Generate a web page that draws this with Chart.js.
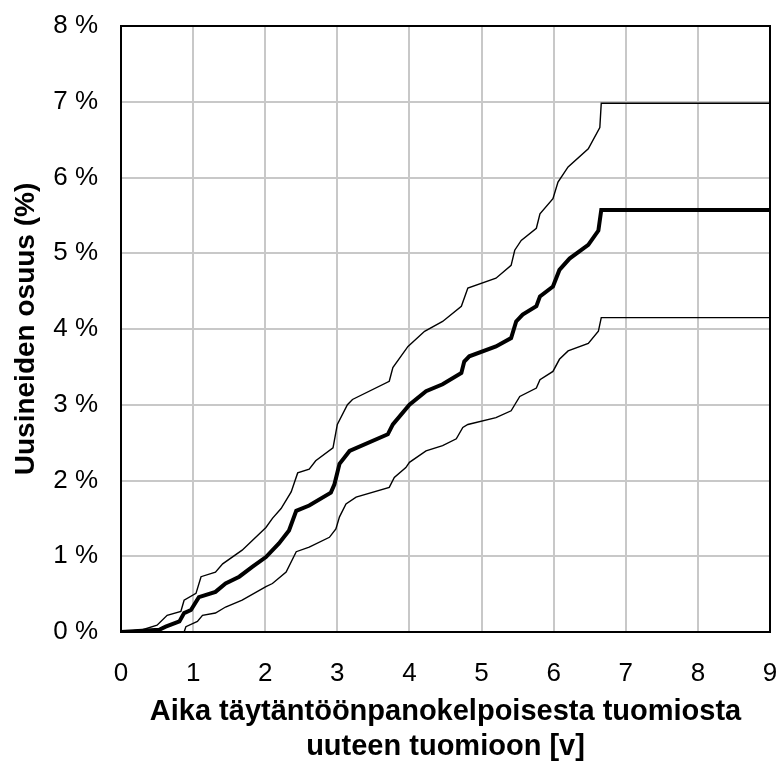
<!DOCTYPE html>
<html>
<head>
<meta charset="utf-8">
<script src="https://cdn.jsdelivr.net/npm/chart.js@4"></script>
<style>
  html, body { margin: 0; padding: 0; background: #fff; }
  #wrap { width: 778px; height: 765px; }
</style>
</head>
<body>
<div id="wrap"><canvas id="chart"></canvas></div>
<script>
// Series (x = years, y = percent)
const midX = [0, 0.53, 0.62, 0.81, 0.875, 0.97, 1.08, 1.31, 1.45, 1.64, 1.82, 2.01, 2.19, 2.33, 2.43, 2.61, 2.91, 2.96, 3.03, 3.17, 3.70, 3.77, 4.0, 4.23, 4.46, 4.72, 4.76, 4.83, 5.2, 5.41, 5.48, 5.57, 5.76, 5.81, 5.99, 6.08, 6.22, 6.48, 6.62, 6.66, 9];
const midY = [0, 0.03, 0.07, 0.14, 0.25, 0.29, 0.46, 0.53, 0.64, 0.73, 0.86, 0.99, 1.17, 1.34, 1.60, 1.67, 1.84, 1.95, 2.22, 2.39, 2.61, 2.74, 3.0, 3.18, 3.27, 3.42, 3.57, 3.64, 3.77, 3.88, 4.10, 4.19, 4.30, 4.43, 4.56, 4.78, 4.93, 5.11, 5.30, 5.57, 5.57];

const upX = [0, 0.3, 0.50, 0.64, 0.83, 0.875, 1.04, 1.11, 1.31, 1.41, 1.68, 2.01, 2.10, 2.22, 2.36, 2.45, 2.61, 2.70, 2.94, 3.0, 3.14, 3.21, 3.72, 3.77, 3.98, 4.21, 4.46, 4.72, 4.81, 5.2, 5.41, 5.46, 5.55, 5.76, 5.81, 5.99, 6.06, 6.2, 6.48, 6.64, 6.66, 9];
const upY = [0, 0.03, 0.09, 0.22, 0.27, 0.42, 0.51, 0.73, 0.79, 0.90, 1.08, 1.38, 1.50, 1.63, 1.85, 2.10, 2.15, 2.26, 2.43, 2.74, 3.0, 3.07, 3.31, 3.49, 3.77, 3.97, 4.10, 4.30, 4.54, 4.67, 4.84, 5.04, 5.17, 5.33, 5.52, 5.72, 5.94, 6.14, 6.38, 6.66, 6.98, 6.98];

const lowX = [0, 0.875, 0.9, 1.06, 1.13, 1.31, 1.45, 1.68, 2.01, 2.10, 2.29, 2.43, 2.61, 2.89, 2.98, 3.03, 3.12, 3.26, 3.72, 3.79, 3.95, 4.0, 4.23, 4.46, 4.65, 4.74, 4.81, 5.2, 5.41, 5.53, 5.76, 5.81, 5.99, 6.08, 6.2, 6.48, 6.62, 6.66, 9];
const lowY = [0, 0, 0.07, 0.14, 0.22, 0.25, 0.33, 0.42, 0.60, 0.64, 0.79, 1.06, 1.12, 1.25, 1.36, 1.52, 1.69, 1.78, 1.91, 2.04, 2.17, 2.24, 2.39, 2.46, 2.55, 2.70, 2.74, 2.83, 2.92, 3.11, 3.22, 3.33, 3.44, 3.60, 3.71, 3.81, 3.97, 4.15, 4.15];

const xTicks = [0, 1, 2, 3, 4, 5, 6, 7, 8, 9];
const yTicks = [0, 1, 2, 3, 4, 5, 6, 7, 8];

const xTitle = ['Aika täytäntöönpanokelpoisesta tuomiosta', 'uuteen tuomioon [v]'];
const yTitle = 'Uusineiden osuus (%)';

function toPoints(xs, ys) {
  return xs.map((x, i) => ({ x: x, y: ys[i] }));
}

// black frame round the plot area
const frameBox = {
  id: 'frameBox',
  afterDraw(chart) {
    const a = chart.chartArea;
    const c = chart.ctx;
    c.save();
    c.strokeStyle = '#000';
    c.lineWidth = 2;
    c.strokeRect(a.left, a.top, a.right - a.left, a.bottom - a.top);
    c.restore();
  }
};

Chart.defaults.font.family = '"Liberation Sans", Arial, sans-serif';
Chart.defaults.color = '#000';

new Chart(document.getElementById('chart'), {
  type: 'scatter',
  data: {
    datasets: [
      { label: 'ylä', data: toPoints(upX, upY), showLine: true, borderColor: '#000', borderWidth: 1.4, pointRadius: 0, tension: 0 },
      { label: 'keski', data: toPoints(midX, midY), showLine: true, borderColor: '#000', borderWidth: 4, pointRadius: 0, tension: 0 },
      { label: 'ala', data: toPoints(lowX, lowY), showLine: true, borderColor: '#000', borderWidth: 1.4, pointRadius: 0, tension: 0 },
    ],
  },
  options: {
    responsive: true,
    maintainAspectRatio: false,
    animation: false,
    layout: { padding: { top: 26, right: 8, left: 0, bottom: 0 } },
    plugins: {
      legend: { display: false },
      tooltip: { enabled: false },
    },
    scales: {
      x: {
        type: 'linear',
        min: 0,
        max: 9,
        afterBuildTicks: (s) => { s.ticks = xTicks.map(v => ({ value: v })); },
        afterFit: (s) => { s.height = 133; s.paddingLeft = 0; s.paddingRight = 0; },
        ticks: { font: { size: 26 }, padding: 26, color: '#000', maxRotation: 0 },
        grid: { color: '#c8c8c8', lineWidth: 2, drawTicks: false },
        border: { display: false },
        title: {
          display: true,
          text: xTitle,
          font: { size: 29, weight: 'bold', lineHeight: 1.22 },
          color: '#000',
          padding: { top: -4, bottom: 0 },
        },
      },
      y: {
        type: 'linear',
        min: 0,
        max: 8,
        afterBuildTicks: (s) => { s.ticks = yTicks.map(v => ({ value: v })); },
        afterFit: (s) => { s.width = 121; s.paddingTop = 0; s.paddingBottom = 0; },
        ticks: { font: { size: 26 }, padding: 23, color: '#000', callback: (v) => v + ' %' },
        grid: { color: '#c8c8c8', lineWidth: 2, drawTicks: false },
        border: { display: false },
        title: {
          display: true,
          text: yTitle,
          font: { size: 28, weight: 'bold' },
          color: '#000',
          padding: { top: 9, bottom: 0 },
        },
      },
    },
  },
  plugins: [frameBox],
});
</script>
</body>
</html>
